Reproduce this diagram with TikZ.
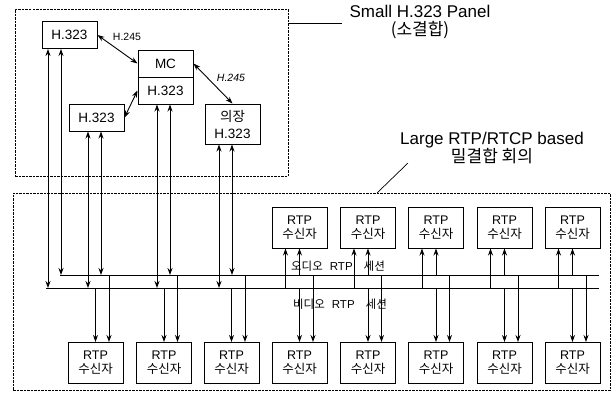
\documentclass[tikz,border=0pt]{standalone}
\usepackage{fontspec}
\setmainfont{Liberation Sans}
\newfontfamily\kr{Noto Sans CJK KR}
\usetikzlibrary{arrows.meta}
\tikzset{
  unit/.style={draw, line width=1pt, minimum width=55pt, minimum height=27pt, inner sep=0pt, align=center, font=\fontsize{13.5}{17}\selectfont},
  rtp/.style={draw, line width=1pt, minimum width=55pt, minimum height=41pt, inner sep=0pt, align=center, font=\fontsize{12.5}{14}\selectfont},
  zone/.style={draw, line width=1pt, dash pattern=on 2.5pt off 1pt, inner sep=0pt},
  tag/.style={align=center, font=\fontsize{17}{18}\selectfont},
  sig/.style={font=\fontsize{10.5}{12}\selectfont},
  buslabel/.style={font=\fontsize{11.5}{13}\selectfont},
}
\begin{document}
\begin{tikzpicture}[x=1pt, y=-1pt, >={Stealth[length=7pt,width=5pt]}, line width=0.9pt]
  \useasboundingbox (0,0) rectangle (614,392);
  % dashed areas
  \node[zone, minimum width=273pt, minimum height=167pt] (small) at (151.5,92.5) {};
  \node[zone, minimum width=597pt, minimum height=197.5pt] (large) at (311.5,291.75) {};
  % H.323 panel
  \node[unit] (h1) at (69.5,35) {H.323};
  \node[unit] (mc) at (165.5,63.5) {MC};
  \node[unit] (mch) at (165.5,90.5) {H.323};
  \node[unit] (h3) at (96.5,117.5) {H.323};
  \node[unit, minimum height=40pt] (chair) at (232.5,124) {{\kr 의장}\\H.323};
  \draw[<->] (h1.east) -- (mc.west);
  \draw[<->] (mc.east) -- (chair.north);
  \draw[<->] (h3.east) -- (mch.west);
  \node[sig] (sig1) at (127,37) {H.245};
  \node[sig, font=\fontsize{10.5}{12}\selectfont\itshape] (sig2) at (231,78) {H.245};
  % sessions
  \coordinate (abus) at (60,275);
  \coordinate (abusend) at (599,275);
  \coordinate (vbus) at (46,288);
  \coordinate (vbusend) at (599,288);
  \draw (abus) -- (abusend);
  \draw (vbus) -- (vbusend);
  \foreach \src/\dv/\da in {h1/-21.5/-8.5, h3/-8.5/4.5, mch/-8.5/4.5, chair/-13.5/-0.5} {
    \coordinate (v\src) at ([xshift=\dv pt]\src.south);
    \coordinate (a\src) at ([xshift=\da pt]\src.south);
    \draw[<->] (v\src) -- (v\src |- vbus);
    \draw[<->] (a\src) -- (a\src |- abus);
  }
  % receivers
  \foreach \cx [count=\i] in {95.5,164,231.5,299.5,368,436,504.5,572.5} {
    \node[rtp] (lo\i) at (\cx,363) {RTP\\{\kr 수신자}};
    \coordinate (alo\i) at ([xshift=13.5pt]lo\i.north);
    \draw[->] (lo\i.north |- vbus) -- (lo\i.north);
    \draw[->] (alo\i |- abus) -- (alo\i);
  }
  \foreach \cx [count=\i] in {299.5,368,436,504.5,572.5} {
    \node[rtp] (up\i) at (\cx,227.5) {RTP\\{\kr 수신자}};
    \coordinate (vup\i) at ([xshift=-14pt]up\i.south);
    \draw[->] (vup\i |- vbus) -- (vup\i);
    \draw[->] (up\i.south |- abus) -- (up\i.south);
  }
  \node[buslabel] (alab) at (338,266) {{\kr 오디오}\hspace{7pt}RTP\hspace{11pt}{\kr 세션}};
  \node[buslabel] (vlab) at (340,304) {{\kr 비디오}\hspace{7pt}RTP\hspace{11pt}{\kr 세션}};
  % callouts
  \node[tag] (smalltag) at (420,22) {Small H.323 Panel\\{\kr (소결합)}};
  \coordinate (smallpin) at (342,23);
  \draw[line width=0.7pt] (smallpin -| small.east) -- (smallpin);
  \node[tag] (largetag) at (492,148) {Large RTP/RTCP based\\{\kr 밀결합 회의}};
  \coordinate (largepin) at (408,163);
  \coordinate (largefoot) at (377,193);
  \draw[line width=0.7pt] (largepin) -- (largefoot);
\end{tikzpicture}
\end{document}
